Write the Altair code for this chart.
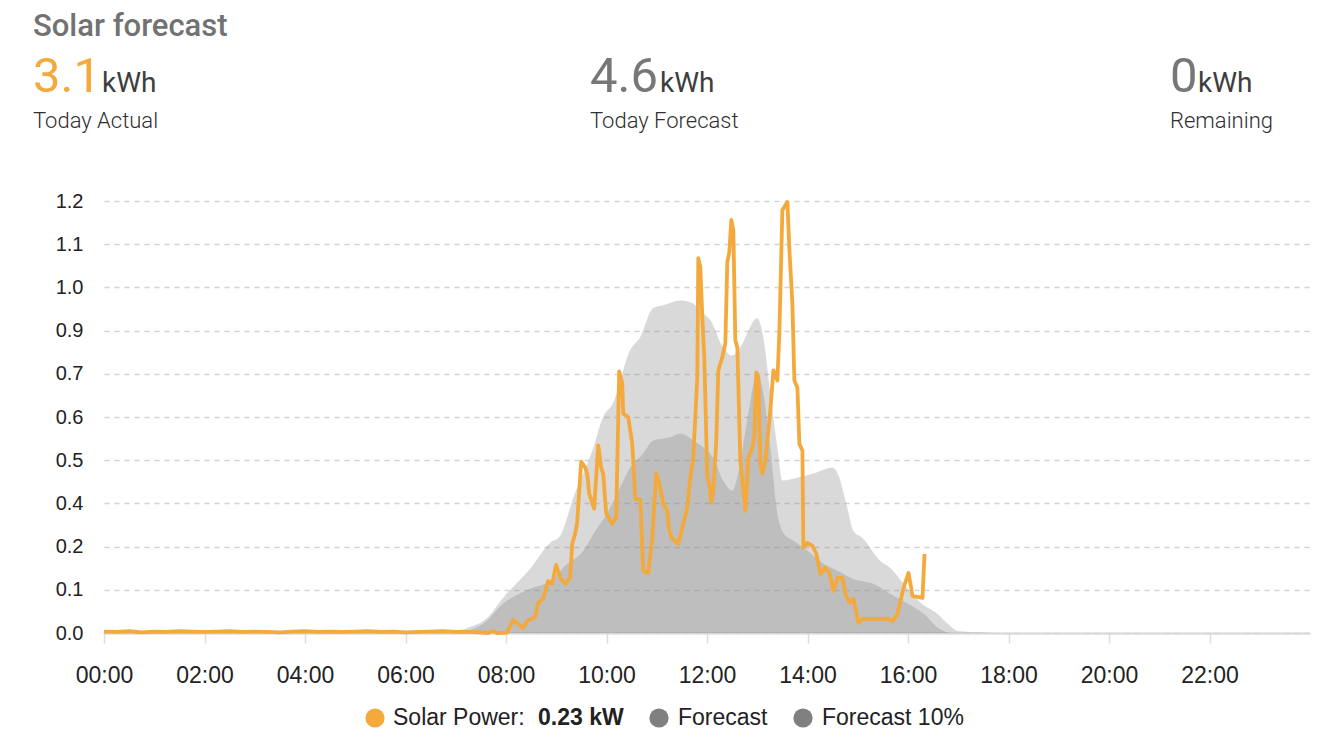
import altair as alt
import pandas as pd

# ---------------- data ----------------
early_h = [0, 0.25, 0.5, 0.75, 1, 1.25, 1.5, 1.75, 2, 2.25, 2.5, 2.75, 3, 3.25, 3.5,
           3.75, 4, 4.25, 4.5, 4.75, 5, 5.25, 5.5, 5.75, 6, 6.25, 6.5, 6.75, 7, 7.15]
early_v = [0.004, 0.003, 0.005, 0.002, 0.004, 0.003, 0.005, 0.004, 0.003, 0.004,
           0.005, 0.003, 0.004, 0.003, 0.002, 0.004, 0.005, 0.003, 0.004, 0.003,
           0.004, 0.005, 0.003, 0.004, 0.002, 0.003, 0.004, 0.005, 0.003, 0.004]

solar_h = [7.285, 7.544, 7.644, 7.743, 7.823, 8.022, 8.141, 8.241, 8.341, 8.422,
           8.580, 8.640, 8.739, 8.839, 8.918, 8.998, 9.078, 9.177, 9.277, 9.317,
           9.377, 9.416, 9.496, 9.576, 9.616, 9.656, 9.755, 9.835, 9.894, 9.934,
           9.994, 10.114, 10.193, 10.253, 10.313, 10.333, 10.433, 10.512, 10.572, 10.672,
           10.731, 10.831, 10.910, 10.990, 11.050, 11.130, 11.209, 11.249, 11.309, 11.428,
           11.508, 11.608, 11.667, 11.727, 11.807, 11.827, 11.867, 11.907, 11.946, 12.006,
           12.046, 12.086, 12.126, 12.185, 12.225, 12.305, 12.365, 12.404, 12.444, 12.484,
           12.524, 12.564, 12.604, 12.663, 12.723, 12.763, 12.823, 12.902, 12.942, 12.982,
           13.022, 13.062, 13.102, 13.161, 13.201, 13.261, 13.321, 13.400, 13.440, 13.500,
           13.540, 13.600, 13.640, 13.699, 13.739, 13.799, 13.839, 13.899, 13.918, 13.998,
           14.098, 14.177, 14.257, 14.357, 14.436, 14.516, 14.596, 14.695, 14.755, 14.835,
           14.914, 15.014, 15.094, 15.592, 15.691, 15.791, 15.851, 15.910, 16.010, 16.090,
           16.189, 16.289, 16.329]
solar_v = [0.003, 0.001, 0.000, 0.006, 0.000, 0.001, 0.037, 0.026, 0.014, 0.034,
           0.046, 0.086, 0.097, 0.148, 0.140, 0.194, 0.157, 0.140, 0.157, 0.254,
           0.283, 0.314, 0.488, 0.471, 0.454, 0.397, 0.354, 0.534, 0.471, 0.454,
           0.340, 0.311, 0.328, 0.745, 0.711, 0.625, 0.614, 0.539, 0.382, 0.380,
           0.177, 0.171, 0.271, 0.454, 0.425, 0.368, 0.348, 0.291, 0.268, 0.254,
           0.300, 0.357, 0.442, 0.499, 0.728, 1.067, 1.042, 0.899, 0.785, 0.442,
           0.425, 0.371, 0.405, 0.548, 0.748, 0.785, 0.825, 1.056, 1.084, 1.176,
           1.147, 0.833, 0.813, 0.491, 0.405, 0.348, 0.499, 0.528, 0.557, 0.742,
           0.728, 0.482, 0.454, 0.491, 0.548, 0.634, 0.748, 0.719, 0.853, 1.204,
           1.213, 1.227, 1.090, 0.939, 0.719, 0.699, 0.539, 0.519, 0.243, 0.257,
           0.248, 0.225, 0.168, 0.186, 0.171, 0.120, 0.157, 0.157, 0.111, 0.086,
           0.097, 0.029, 0.040, 0.040, 0.034, 0.054, 0.091, 0.128, 0.171, 0.106,
           0.103, 0.100, 0.225]

forecast_h = [0, 7.0, 7.225, 7.625, 7.94, 8.48, 8.88, 9.08, 9.34, 9.74, 9.93, 10.13,
              10.47, 10.67, 10.93, 11.13, 11.47, 11.67, 11.93, 12.07, 12.32, 12.50,
              12.66, 13.00, 13.12, 13.26, 13.40, 13.50, 13.80, 14.12, 14.50, 14.60,
              14.79, 14.91, 15.09, 15.45, 15.65, 15.91, 16.25, 16.59, 16.79, 16.99,
              17.45, 17.8, 24]
forecast_v = [0, 0, 0.014, 0.043, 0.100, 0.183, 0.257, 0.277, 0.385, 0.528, 0.614, 0.654,
              0.805, 0.842, 0.925, 0.933, 0.947, 0.942, 0.910, 0.890, 0.813, 0.790,
              0.813, 0.896, 0.842, 0.682, 0.528, 0.434, 0.442, 0.454, 0.471, 0.454,
              0.357, 0.291, 0.271, 0.205, 0.185, 0.140, 0.086, 0.054, 0.026, 0.006,
              0.002, 0, 0]

forecast10_h = [0, 7.0, 7.225, 7.545, 7.94, 8.48, 8.88, 9.22, 9.54, 9.74, 10.01, 10.27,
                10.47, 10.73, 10.93, 11.27, 11.47, 11.73, 12.00, 12.12, 12.32, 12.50,
                12.62, 12.80, 13.00, 13.10, 13.26, 13.40, 13.52, 13.72, 14.00, 14.32,
                14.60, 14.91, 15.31, 15.65, 16.00, 16.32, 16.60, 16.86, 24]
forecast10_v = [0, 0, 0.006, 0.026, 0.083, 0.126, 0.148, 0.197, 0.234, 0.282, 0.340, 0.414,
                0.471, 0.511, 0.548, 0.557, 0.568, 0.548, 0.519, 0.499, 0.434, 0.405,
                0.454, 0.605, 0.739, 0.699, 0.528, 0.340, 0.285, 0.263, 0.234, 0.197,
                0.177, 0.154, 0.140, 0.111, 0.083, 0.054, 0.014, 0, 0]

x_ticks = [0, 2, 4, 6, 8, 10, 12, 14, 16, 18, 20, 22]
y_ticks = [0, 0.123, 0.246, 0.369, 0.492, 0.615, 0.738, 0.861, 0.984, 1.107, 1.23]

title_text = "Solar forecast"
stat_values = ["3.1", "4.6", "0"]
stat_unit = "kWh"
stat_labels = ["Today Actual", "Today Forecast", "Remaining"]
legend_labels = ["Solar Power: ", "Forecast", "Forecast 10%"]
current_power = "0.23 kW"

# ---------------- styling ----------------
ORANGE = "#f3a93c"
GRAY = "#808080"
AX_FONT = "Liberation Sans"
HD_FONT = "Roboto"

solar_df = pd.DataFrame({"hour": early_h + solar_h, "kw": early_v + solar_v})
fc_df = pd.DataFrame({"hour": forecast_h, "kw": forecast_v})
f10_df = pd.DataFrame({"hour": forecast10_h, "kw": forecast10_v})

xscale = alt.Scale(domain=[0, 24], nice=False, zero=False)
yscale = alt.Scale(domain=[0, 1.23], nice=False)

x_axis = alt.Axis(
    values=x_ticks, title=None, grid=False, labelFlush=False,
    labelExpr="(datum.value < 10 ? '0' : '') + datum.value + ':00'",
    labelFont=AX_FONT, labelFontSize=23, labelColor="#222222", labelPadding=21,
    tickColor="#dddddd", tickSize=10, tickWidth=1.5,
    domainColor="#d6d6d6", domainWidth=2,
)
y_axis = alt.Axis(
    values=y_ticks, format=".1f", title=None, ticks=False, domain=False,
    grid=True, gridDash=[5, 5], gridColor="#d4d4d4", gridWidth=1.3,
    labelFont=AX_FONT, labelFontSize=20, labelColor="#222222", labelPadding=21,
)

X = alt.X("hour:Q", scale=xscale, axis=x_axis)
Y = alt.Y("kw:Q", scale=yscale, axis=y_axis)

fc_area = alt.Chart(fc_df).mark_area(color=GRAY, opacity=0.3, interpolate="monotone").encode(x=X, y=Y)
f10_area = alt.Chart(f10_df).mark_area(color=GRAY, opacity=0.3, interpolate="monotone").encode(x=X, y=Y)
solar_line = alt.Chart(solar_df).mark_line(color=ORANGE, strokeWidth=3.8, strokeJoin="round").encode(x=X, y=Y)


def label(text, x, y, size, color, weight=400, font=HD_FONT, baseline="alphabetic"):
    return alt.Chart(alt.Data(values=[{"t": text}])).mark_text(
        align="left", baseline=baseline, fontSize=size, font=font,
        fontWeight=weight, color=color,
    ).encode(text="t:N", x=alt.value(x), y=alt.value(y))


def dot(x, y, color):
    return alt.Chart(alt.Data(values=[{"c": 1}])).mark_circle(
        size=370, color=color, opacity=1
    ).encode(x=alt.value(x), y=alt.value(y))


header = [
    label(title_text, -71, -165, 31, "#727272", weight=500),
    label(stat_values[0], -71, -109, 49, ORANGE),
    label(stat_unit, -2, -109, 28, "#3d3d3d"),
    label(stat_labels[0], -71, -73, 22, "#303030", weight=300),
    label(stat_values[1], 486, -109, 49, "#777777"),
    label(stat_unit, 556, -109, 28, "#3d3d3d"),
    label(stat_labels[1], 486, -73, 22, "#303030", weight=300),
    label(stat_values[2], 1066, -109, 49, "#777777"),
    label(stat_unit, 1094, -109, 28, "#3d3d3d"),
    label(stat_labels[2], 1066, -73, 22, "#303030", weight=300),
]

LEG_Y = 517
legend = [
    dot(271, LEG_Y, ORANGE),
    label(legend_labels[0], 289, LEG_Y, 23, "#222222", font=AX_FONT, baseline="middle"),
    label(current_power, 434, LEG_Y, 23, "#222222", weight=700, font=AX_FONT, baseline="middle"),
    dot(555, LEG_Y, GRAY),
    label(legend_labels[1], 574, LEG_Y, 23, "#222222", font=AX_FONT, baseline="middle"),
    dot(699, LEG_Y, GRAY),
    label(legend_labels[2], 718, LEG_Y, 23, "#222222", font=AX_FONT, baseline="middle"),
]

chart = alt.layer(fc_area, f10_area, solar_line, *header, *legend).properties(
    width=1206,
    height=432,
    padding={"left": 96, "top": 193, "right": 6, "bottom": 100},
    autosize=alt.AutoSizeParams(type="none"),
    background="white",
).configure_view(stroke=None)

chart.save("out.html", embed_options={"renderer": "svg", "actions": False})
